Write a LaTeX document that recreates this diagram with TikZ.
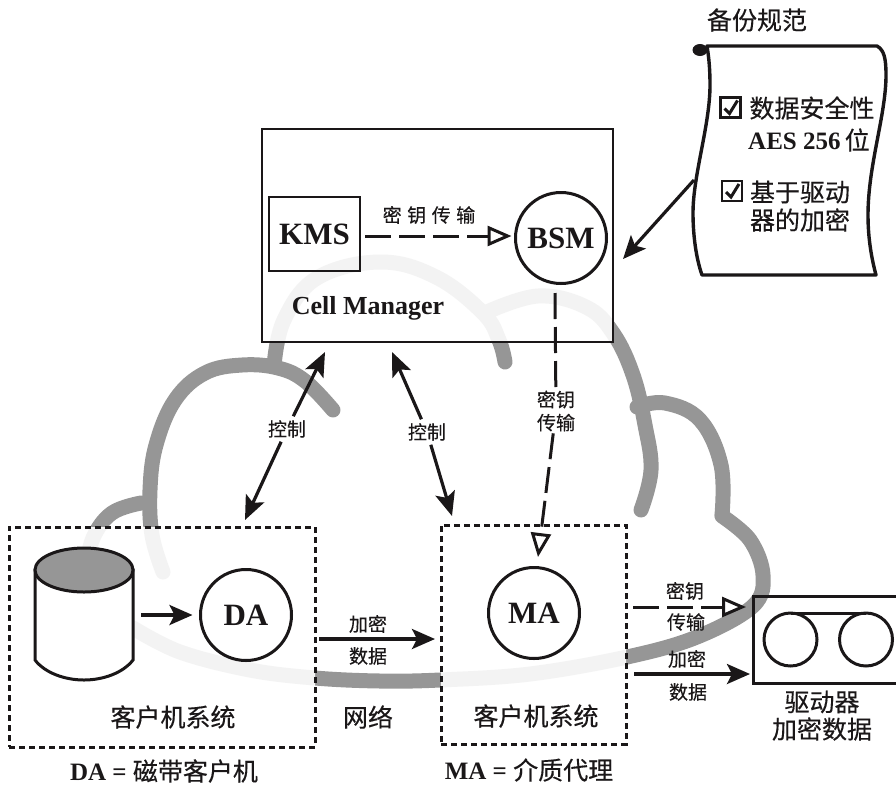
\documentclass[tikz,border=0pt]{standalone}
\usepackage{fontspec}
\setmainfont{Liberation Serif}
\newfontfamily\cjk[FakeBold=0.35]{Noto Sans CJK SC}
\usetikzlibrary{arrows.meta,calc,shapes.geometric}
\definecolor{cloudgray}{HTML}{969696}
\definecolor{cloudlight}{HTML}{F3F3F3}
\definecolor{ink}{HTML}{1A1718}
\tikzset{
  every node/.style={outer sep=0pt},
  cjkbig/.style={text=ink,inner sep=0pt,font=\fontsize{25}{28}\selectfont\cjk},
  cjksmall/.style={text=ink,inner sep=2pt,font=\fontsize{19}{23}\selectfont\cjk,align=center},
  latinbold/.style={text=ink,inner sep=0pt,font=\fontsize{31}{34}\selectfont\bfseries},
  caption/.style={text=ink,inner sep=0pt,font=\fontsize{25}{28}\selectfont},
  solidbox/.style={draw=ink,line width=2.8pt},
  dotbox/.style={draw=ink,line width=3pt,dash pattern=on 6pt off 4pt},
  ring/.style={draw=ink,line width=3pt,fill=white,circle,minimum size=91pt,inner sep=0pt},
  flow/.style={draw=ink,line width=3.2pt,-{Stealth[length=23pt,width=20pt,inset=5pt]}},
  biflow/.style={draw=ink,line width=3.2pt,-{Stealth[length=24pt,width=20pt,inset=5pt]}},
  keyline/.style={draw=ink,line width=3pt,dash pattern=on 26pt off 8pt},
  keyflow/.style={keyline,-{Triangle[open,fill=white,length=24pt,width=20pt,line width=3pt]}},
  cloudline/.style={line width=15pt,line cap=round,line join=round},
}
\newcommand{\cloudshape}{
  \draw[cloudline] plot[smooth,tension=0.65] coordinates {(141,503) (112,513) (93,538) (86,570)};
  \draw[cloudline] plot[smooth,tension=0.65] coordinates {(333,410) (305,381) (278,368) (242,365) (205,373) (175,400) (156,445) (150,490) (152,535) (163,572)};
  \draw[cloudline] plot[smooth,tension=0.65] coordinates {(274,366) (284,320) (317,278) (380,262) (436,277) (483,313) (499,340) (505,362)};
  \draw[cloudline] plot[smooth,tension=0.65] coordinates {(487,312) (538,296) (586,307) (613,333) (633,375) (645,425) (651,470) (641,510)};
  \draw[cloudline] plot[smooth,tension=0.65] coordinates {(637,407) (665,403) (700,420) (721,465) (722,515)};
  \draw[cloudline] plot[smooth,tension=0.6] coordinates {(722,516) (750,540) (763,575) (753,606) (697,637) (627,657) (530,674) (440,680) (380,681) (315,678) (250,670) (180,652) (133,628)};
}
\begin{document}
\begin{tikzpicture}[x=1pt,y=-1pt]
\useasboundingbox (0,0) rectangle (896,785);
% cloud
\begin{scope}[draw=cloudgray]\cloudshape\end{scope}
\fill[white] (262,129) rectangle (613,342);
\fill[white] (9,527) rectangle (315,747);
\fill[white] (441,525) rectangle (626,744);
\begin{scope}
  \clip (262,129) rectangle (613,342) (9,527) rectangle (315,747) (441,525) rectangle (626,744);
  \begin{scope}[draw=cloudlight]\cloudshape\end{scope}
\end{scope}
% containers
\node[solidbox,minimum width=351pt,minimum height=213pt,inner sep=0pt] (cell) at (437.5,235.5) {};
\node[dotbox,minimum width=306pt,minimum height=220pt,inner sep=0pt] (clienta) at (162,637) {};
\node[dotbox,minimum width=185pt,minimum height=219pt,inner sep=0pt] (clientb) at (533.5,634.5) {};
% cell manager content
\node[solidbox,latinbold,minimum width=91pt,minimum height=74pt] (kms) at (314.5,234) {KMS};
\node[ring,latinbold] (bsm) at (561,238) {BSM};
\node[text=ink,inner sep=0pt,font=\fontsize{26}{28}\selectfont\bfseries] (celllabel) at (368,308) {Cell Manager};
\node[cjksmall] (kmskey) at (429,215) {密\hspace{5.5pt}钥\hspace{5.5pt}传\hspace{5.5pt}输};
\draw[keyflow] ($(kms.east)+(5,2)$) -- ($(bsm.west)+(-4,-2)$);
% scroll
\draw[ink,line width=3.4pt,fill=white,line join=round]
  (707,46) -- (877,46) .. controls (884,50) and (886,58) .. (886,75)
  .. controls (886,115) and (868,165) .. (868,215)
  .. controls (868,240) and (872,260) .. (876,275)
  -- (702,275) .. controls (696,258) and (693,235) .. (693,213)
  .. controls (693,175) and (710,125) .. (710,85)
  .. controls (710,70) and (709,58) .. (707,46) -- cycle;
\fill[ink] (700,50) ellipse (7.5pt and 6pt);
\node[cjkbig] (speclabel) at (757,20) {备份规范};
\node[draw=ink,line width=2.4pt,minimum size=20pt,inner sep=0pt] (chka) at (730.5,107.5) {};
\node[draw=ink,line width=2.4pt,minimum size=20pt,inner sep=0pt] (chkb) at (732,191) {};
\draw[ink,line width=3pt] ($(chka)+(-6,1)$) -- ($(chka)+(-1,6)$) -- ($(chka)+(7,-7)$);
\draw[ink,line width=3pt] ($(chkb)+(-6,1)$) -- ($(chkb)+(-1,6)$) -- ($(chkb)+(7,-7)$);
\node[cjkbig] (speca) at (812,108) {数据安全性};
\node[caption] (specb) at (809,140) {\bfseries AES 256\,{\mdseries\cjk 位}};
\node[cjkbig] (specc) at (800,192) {基于驱动};
\node[cjkbig] (specd) at (800,220) {器的加密};
\coordinate (scrollout) at (694,180);
\coordinate (cellin) at (623,259);
\draw[flow] (scrollout) -- (cellin);
% control arrows
\node[cjksmall,inner sep=4pt] (ctla) at (287,429) {控制};
\coordinate (ctlatop) at (325,352);
\coordinate (ctlabot) at (245,520);
\draw[biflow] (ctla) -- (ctlatop);
\draw[biflow] (ctla) -- (ctlabot);
\node[cjksmall,inner sep=4pt] (ctlb) at (427,432) {控制};
\coordinate (ctlbtop) at (392,352);
\coordinate (ctlbbot) at (452,516);
\draw[biflow] (ctlb) -- (ctlbtop);
\draw[biflow] (ctlb) -- (ctlbbot);
% key transfer to MA
\node[cjksmall,inner sep=2pt] (keymid) at (556,411) {密钥\\传输};
\coordinate (bsmout) at (555,293);
\coordinate (makey) at (538,557);
\draw[keyline] (bsmout) -- (keymid);
\draw[keyflow] (keymid) -- (makey);
% client A
\draw[ink,line width=3pt,fill=white] (35,570) -- (35,660) .. controls (45,673) and (65,680) .. (84,680) .. controls (103,680) and (123,673) .. (133,660) -- (133,570) -- cycle;
\node[draw=ink,line width=3pt,fill=cloudgray,ellipse,minimum width=98pt,minimum height=44pt,inner sep=0pt] (disk) at (84,570) {};
\node[ring,latinbold] (da) at (246,615) {DA};
\coordinate (diskout) at (141,615);
\draw[flow,shorten >=8pt] (diskout) -- (da.west);
\node[cjkbig] (clientalabel) at (173,717) {客户机系统};
\node[caption] (dalegend) at (164,771) {\bfseries DA = {\mdseries\cjk 磁带客户机}};
% data A to B
\coordinate (dataaout) at (319,639);
\coordinate (databin) at (435,639);
\draw[flow] (dataaout) -- (databin);
\node[cjksmall] (dataatop) at (368,624) {加密};
\node[cjksmall] (dataabot) at (368,656) {数据};
\node[cjkbig] (netlabel) at (368,717) {网络};
% client B
\node[ring,latinbold] (ma) at (534,613) {MA};
\node[cjkbig] (clientblabel) at (536,716) {客户机系统};
\node[caption] (malegend) at (529,770) {\bfseries MA = {\mdseries\cjk 介质代理}};
% drive
\draw[ink,line width=3pt] (899,596) -- (753,596) -- (753,683) -- (899,683);
\node[draw=ink,line width=3pt,circle,minimum size=53pt,inner sep=0pt] (reela) at (790.5,639.5) {};
\node[draw=ink,line width=3pt,circle,minimum size=53pt,inner sep=0pt] (reelb) at (866,639.5) {};
\draw[ink,line width=3pt] (reela.north) -- (reelb.north);
\coordinate (keyout) at (633,607);
\coordinate (keyin) at (746,607);
\draw[keyflow] (keyout) -- (keyin);
\coordinate (dataout) at (634,674);
\coordinate (datain) at (750,674);
\draw[flow] (dataout) -- (datain);
\node[cjksmall] (drvkeya) at (685,591) {密钥};
\node[cjksmall] (drvkeyb) at (686,622) {传输};
\node[cjksmall] (drvdataa) at (687,659) {加密};
\node[cjksmall] (drvdatab) at (688,692) {数据};
\node[cjkbig] (drivea) at (822,702) {驱动器};
\node[cjkbig] (driveb) at (822,729) {加密数据};
\end{tikzpicture}
\end{document}
